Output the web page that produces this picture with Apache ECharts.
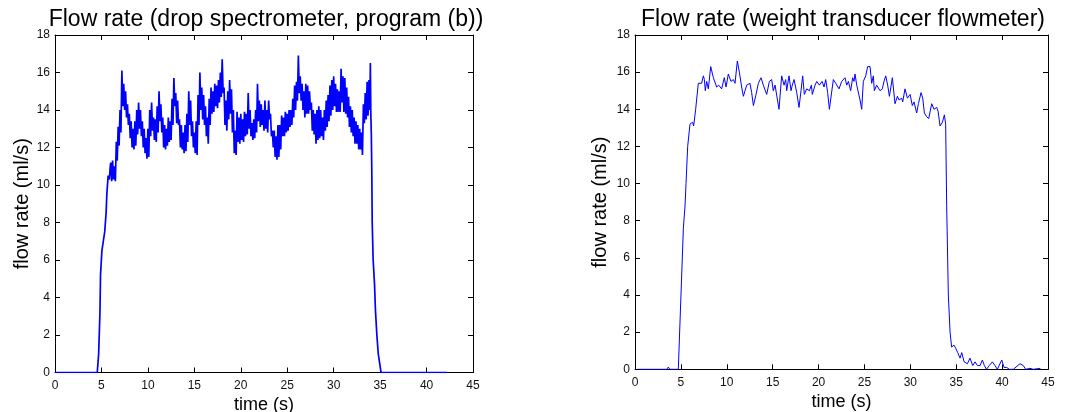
<!DOCTYPE html>
<html><head><meta charset="utf-8">
<script src="https://cdn.jsdelivr.net/npm/echarts@6/dist/echarts.min.js"></script>
<style>html,body{margin:0;padding:0;background:#fff}#c{width:1066px;height:412px}</style>
</head><body><div id="c"></div>
<script>
const titleLeft = 'Flow rate (drop spectrometer, program (b))';
const titleRight = 'Flow rate (weight transducer flowmeter)';
const xName = 'time (s)';
const yName = 'flow rate (ml/s)';
const xMin = 0, xMax = 45, xStep = 5;
const yMin = 0, yMax = 18, yStep = 2;

// left: start / rise section [time, value]
const leftRise = [[0,0],[4.55,0],[4.7,1],[4.84,3.2],[4.9,5.2],[5.05,6.5],[5.2,7.0],[5.35,7.5],[5.5,8.5],[5.58,9.5],[5.72,10.5],[5.85,10.3],[5.95,11.0]];
// left: noisy plateau, read every 0.1 s from 6.0 s (alternating upper / lower edge of the band)
const leftDenseStart = 6.0, leftDenseStep = 0.1;
const leftDense = [
11.2,10.2,11.3,10.3,11.0,10.2,12.3,11.3,13.1,12.1,
14.0,12.8,16.1,14.2,15.4,14.0,15.0,13.6,14.3,13.2,
13.8,12.5,13.4,12.0,13.0,11.9,13.4,12.1,14.0,12.7,
14.4,13.0,14.0,12.6,13.4,12.0,13.0,11.7,12.5,11.4,
13.0,11.5,14.0,12.6,14.4,12.9,13.6,12.4,13.5,12.3,
14.2,12.8,15.0,13.4,14.3,12.8,13.6,12.0,13.2,11.9,
13.0,12.1,13.6,12.3,13.4,12.4,14.6,13.2,15.7,14.2,
14.9,13.3,14.5,13.2,13.5,12.0,13.2,11.9,12.8,11.7,
13.2,11.8,13.8,12.3,15.0,13.2,14.5,12.6,13.4,12.0,
12.8,11.7,13.4,11.6,14.8,13.2,16.0,14.0,15.2,13.5,
14.8,13.2,14.2,12.6,13.6,12.2,14.6,13.2,15.2,13.8,
15.0,13.9,15.4,14.2,15.3,14.1,15.6,14.4,16.0,14.7,
16.7,14.9,15.2,13.2,14.5,12.9,15.0,13.5,15.6,13.8,
15.1,12.8,14.0,11.7,12.9,11.6,13.9,12.3,13.6,12.2,
13.8,12.4,13.5,12.3,13.9,12.6,13.8,12.7,14.9,13.0,
14.0,12.6,13.3,12.4,13.5,12.5,14.0,12.8,15.4,13.4,
14.5,13.1,14.3,13.2,14.0,12.9,14.5,13.0,14.0,12.8,
14.5,13.5,13.8,12.6,12.9,12.0,12.9,11.5,12.6,11.35,
13.2,11.5,13.2,11.9,13.7,12.6,13.6,12.6,13.9,12.8,
13.8,12.9,14.0,13.1,14.0,13.2,14.6,13.6,15.3,14.0,
15.5,14.5,16.9,14.9,15.8,14.5,15.4,14.0,15.0,13.6,
15.4,13.8,15.3,13.8,15.0,14.0,14.4,12.9,14.0,12.7,
13.8,12.2,14.0,12.4,14.2,12.5,14.0,12.6,13.6,12.4,
14.0,12.9,14.5,13.1,14.8,13.4,15.3,13.7,15.6,14.0,
15.8,14.2,15.4,13.9,15.1,13.9,15.0,13.9,16.2,14.4,
15.8,13.9,15.7,13.8,15.2,13.6,14.7,13.1,14.2,12.8,
14.0,12.6,13.6,12.2,13.4,12.2,13.2,11.9,13.0,11.9,
12.8,11.6,14.3,13.3,14.9,13.5,15.5,13.7,15.6,14.0
];
// left: final peak, fall and end section [time, value]
const leftFall = [[33.95,16.5],[34.0,13.8],[34.05,12.8],[34.1,11.0],[34.15,8.0],[34.25,6.0],[34.4,4.7],[34.5,3.3],[34.65,2.0],[34.8,1.0],[34.95,0.5],[35.1,0],[42.2,0]];

// right: [time, value]
const rightFlow = [
[0.3,0],[0.47,0.1],[0.6,0],[1.1,0],[1.27,0.1],[1.4,0],[2.0,0],[2.18,0.1],[2.3,0],[3.45,0],[3.63,0.12],[3.8,0],[4.72,0],
[5.27,7.6],[5.45,8.8],[5.56,10],[5.74,12],[5.99,13.2],[6.28,13.3],[6.39,13.1],[6.61,14],[6.72,14],[6.90,15.4],[7.26,15.4],
[7.45,15.8],[7.56,15.6],[7.66,15],[7.81,15.5],[7.99,15.1],[8.25,16.3],[8.54,15.7],[8.72,15.8],[8.90,15.2],[9.12,15.3],
[9.44,15.1],[9.73,15.7],[9.92,15.2],[10.17,15.9],[10.46,15.5],[10.72,15.6],[10.90,15.4],[11.15,16.6],[11.37,16],[11.62,15.2],
[11.81,14.7],[12.17,15.3],[12.35,15.2],[12.53,15.4],[12.71,14.9],[12.90,14.2],[13.19,14.8],[13.44,15.4],[13.73,15.7],[13.98,15.3],
[14.17,15.3],[14.35,14.8],[14.64,15.5],[14.89,15.6],[15.07,15],[15.26,15.3],[15.69,14],[15.98,15.8],[16.24,15.3],[16.42,15.6],
[16.53,15],[16.78,15.8],[17.0,15],[17.14,15.3],[17.33,15.6],[17.62,14.9],[17.87,14.1],[18.09,15],[18.27,15.8],[18.45,14.8],
[18.71,15.1],[19.0,15],[19.22,15.3],[19.32,14.8],[19.62,15.3],[19.80,15.5],[20.09,15.3],[20.38,15.5],[20.60,15.2],[20.78,15.6],
[20.99,14.9],[21.18,14],[21.61,15.6],[21.87,15.4],[21.98,15.5],[22.23,15.1],[22.52,15.5],[22.88,15.7],[23.07,15.3],[23.25,15.5],
[23.5,15],[23.72,15.7],[23.86,15.5],[23.97,15.9],[24.16,15.3],[24.52,14.5],[24.70,14],[24.88,15.5],[25.14,15.8],[25.35,16.3],
[25.61,16.3],[25.79,15.4],[25.97,15.8],[26.08,15],[26.33,15.3],[26.70,15],[26.95,15.1],[27.13,15.5],[27.32,15.8],[27.53,15.3],
[27.72,14.7],[28.04,15.7],[28.33,14.3],[28.59,14.7],[28.77,14.5],[29.06,14.6],[29.17,14.4],[29.42,15.1],[29.68,14.6],[29.86,14.5],
[29.97,14.8],[30.22,14.2],[30.40,14.4],[30.69,13.8],[30.88,14.3],[31.17,14.9],[31.35,14.6],[31.53,13.8],[31.78,13.6],[32.0,13.5],
[32.33,14.3],[32.58,14],[32.87,14.1],[33.02,13.9],[33.24,13.1],[33.49,13.3],[33.71,13.7],[33.85,13.2],[33.96,8.8],[34.14,4],
[34.33,2],[34.5,1.2],[34.76,1.3],[34.98,1.1],[35.16,0.9],[35.31,1.0],[35.42,0.6],[35.6,0.9],[35.86,0.4],[36.04,0.5],
[36.22,0.3],[36.5,0.6],[36.8,0.2],[37.05,0.4],[37.31,0.2],[37.6,0.2],[37.85,0.5],[38.07,0.2],[38.3,0],[38.6,0.2],
[38.94,0.4],[39.23,0.2],[39.48,0],[39.96,0.5],[40.21,0.1],[40.5,0.1],[40.79,0],[40.97,0.1],[41.22,0],[41.95,0.3],
[42.31,0.2],[42.57,0],[43.04,0.05],[43.4,0],[44.13,0.05],[44.2,0]
];

const leftFlow = leftRise
  .concat(leftDense.map((v, i) => [+(leftDenseStart + i * leftDenseStep).toFixed(2), v]))
  .concat(leftFall);

const FONT = 'Liberation Sans, Arial, sans-serif';
const grids = [
  {left: 55, top: 35, width: 418, height: 337.5, containLabel: false, outerBoundsMode: 'none'},
  {left: 635, top: 35, width: 413, height: 334.3, containLabel: false, outerBoundsMode: 'none'}
];
const yNameGaps = [22, 25];
const xAxes = [], yAxes = [];
grids.forEach((g, gi) => {
  const lineStyle = {color: '#000', width: 1};
  xAxes.push({
    type: 'value', gridIndex: gi, position: 'bottom', min: xMin, max: xMax, interval: xStep,
    name: xName, nameLocation: 'middle', nameGap: 21,
    nameTextStyle: {fontFamily: FONT, fontSize: 18, color: '#000'},
    axisLine: {show: true, onZero: false, lineStyle},
    axisTick: {show: true, inside: true, length: 5, lineStyle},
    axisLabel: {fontFamily: FONT, fontSize: 12, color: '#111', margin: 7},
    splitLine: {show: false}
  });
  xAxes.push({
    type: 'value', gridIndex: gi, position: 'top', min: xMin, max: xMax, interval: xStep,
    axisLine: {show: true, onZero: false, lineStyle},
    axisTick: {show: true, inside: true, length: 5, lineStyle},
    axisLabel: {show: false}, splitLine: {show: false}
  });
  yAxes.push({
    type: 'value', gridIndex: gi, position: 'left', min: yMin, max: yMax, interval: yStep,
    name: yName, nameLocation: 'middle', nameGap: yNameGaps[gi],
    nameTextStyle: {fontFamily: FONT, fontSize: 20, color: '#000'},
    axisLine: {show: true, onZero: false, lineStyle},
    axisTick: {show: true, inside: true, length: 5, lineStyle},
    axisLabel: {fontFamily: FONT, fontSize: 12, color: '#111', margin: 5},
    splitLine: {show: false}
  });
  yAxes.push({
    type: 'value', gridIndex: gi, position: 'right', min: yMin, max: yMax, interval: yStep,
    axisLine: {show: true, onZero: false, lineStyle},
    axisTick: {show: true, inside: true, length: 5, lineStyle},
    axisLabel: {show: false}, splitLine: {show: false}
  });
});

const chart = echarts.init(document.getElementById('c'), null, {renderer: 'canvas'});
chart.setOption({
  animation: false,
  backgroundColor: '#fff',
  title: [
    {text: titleLeft, left: 266, top: 8, textAlign: 'center', padding: 0,
     textStyle: {fontFamily: FONT, fontSize: 23, fontWeight: 'normal', color: '#000'}},
    {text: titleRight, left: 843, top: 8, textAlign: 'center', padding: 0,
     textStyle: {fontFamily: FONT, fontSize: 23, fontWeight: 'normal', color: '#000'}}
  ],
  grid: grids,
  xAxis: xAxes,
  yAxis: yAxes,
  series: [
    {type: 'line', xAxisIndex: 0, yAxisIndex: 0, data: leftFlow, showSymbol: false, symbol: 'none',
     lineStyle: {color: '#0000ff', width: 1.7}, z: 1},
    {type: 'line', xAxisIndex: 2, yAxisIndex: 2, data: rightFlow, showSymbol: false, symbol: 'none',
     lineStyle: {color: '#0000ff', width: 1}, z: 1}
  ]
});
</script></body></html>
